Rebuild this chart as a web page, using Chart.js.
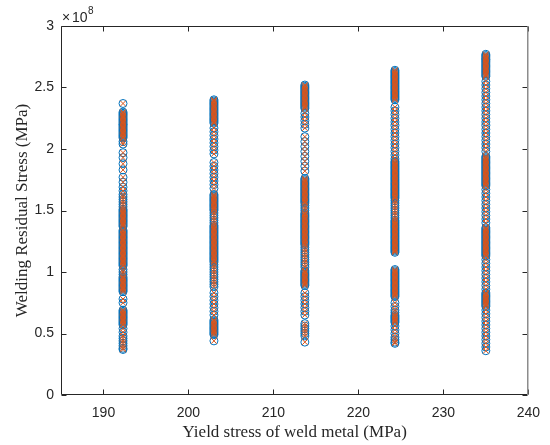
<!DOCTYPE html>
<html>
<head>
<meta charset="utf-8">
<script src="https://cdn.jsdelivr.net/npm/chart.js@4.4.1/dist/chart.umd.min.js"></script>
<style>
  body { margin: 0; background: #fff; }
  canvas { display: block; }
</style>
</head>
<body>
<canvas id="myChart" width="550" height="445"></canvas>
<script>
// yield stress of each weld metal sample group (MPa)
const yieldStress = [192.3, 203.0, 213.7, 224.3, 235.0];

// welding residual stress for each group, in units of 1e8 MPa
const residual192 = [2.37,
  2.30, 2.29, 2.28, 2.27, 2.26, 2.25, 2.24, 2.23, 2.22, 2.21, 2.20, 2.19, 2.18, 2.17, 2.16, 2.15, 2.14, 2.13, 2.12, 2.11, 2.10, 2.09,
  2.06, 2.04,
  1.97, 1.93, 1.88, 1.83, 1.77, 1.73,
  1.69, 1.66, 1.63, 1.61, 1.59, 1.57, 1.55, 1.53, 1.51,
  1.50, 1.49, 1.48, 1.47, 1.46, 1.45, 1.44, 1.43, 1.42, 1.41, 1.40, 1.39, 1.38, 1.37,
  1.34, 1.33, 1.32, 1.31, 1.30, 1.29, 1.28, 1.27, 1.26, 1.25, 1.24, 1.23, 1.22, 1.21, 1.20,
  1.19, 1.18, 1.17, 1.16, 1.15, 1.14, 1.13, 1.12, 1.11, 1.10, 1.09, 1.08, 1.07, 1.06, 1.05,
  1.02, 1.00, 0.98,
  0.96, 0.95, 0.94, 0.93, 0.92, 0.91, 0.90, 0.89, 0.88, 0.87, 0.86, 0.85, 0.84,
  0.78, 0.75,
  0.69, 0.68, 0.67, 0.66, 0.65, 0.64, 0.63, 0.62, 0.61, 0.60, 0.59, 0.58, 0.57,
  0.54, 0.51, 0.48, 0.46, 0.44, 0.42, 0.40, 0.38, 0.37];
const residual203 = [2.40, 2.39, 2.38, 2.37, 2.36, 2.35, 2.34, 2.33, 2.32, 2.31, 2.30, 2.29, 2.28, 2.27, 2.26, 2.25, 2.24, 2.23, 2.22, 2.21,
  2.17, 2.14, 2.11, 2.08, 2.05, 2.02, 1.99, 1.96,
  1.89, 1.86, 1.83, 1.80, 1.77, 1.74, 1.71, 1.68,
  1.63, 1.62, 1.61, 1.60, 1.59, 1.58, 1.57, 1.56, 1.55, 1.54, 1.53, 1.52, 1.51, 1.50,
  1.48, 1.46, 1.44, 1.42, 1.40,
  1.38, 1.37, 1.36, 1.35, 1.34, 1.33, 1.32, 1.31, 1.30, 1.29, 1.28, 1.27, 1.26, 1.25, 1.24, 1.23,
  1.22, 1.21, 1.20, 1.19, 1.18, 1.17, 1.16, 1.15, 1.14, 1.13, 1.12, 1.11, 1.10, 1.09, 1.08,
  1.06, 1.04, 1.02, 1.00, 0.98, 0.96, 0.94, 0.92, 0.90, 0.88,
  0.83, 0.80, 0.77, 0.74, 0.71, 0.68, 0.65,
  0.61, 0.60, 0.59, 0.58, 0.57, 0.56, 0.55, 0.54, 0.53, 0.52, 0.51, 0.50, 0.49,
  0.44];
const residual214 = [2.52, 2.51, 2.50, 2.49, 2.48, 2.47, 2.46, 2.45, 2.44, 2.43, 2.42, 2.41, 2.40, 2.39, 2.38, 2.37, 2.36, 2.35, 2.34, 2.33,
  2.29, 2.26, 2.23, 2.20, 2.17,
  2.10, 2.06, 2.02, 1.98, 1.94, 1.90, 1.86, 1.82,
  1.76, 1.75, 1.74, 1.73, 1.72, 1.71, 1.70, 1.69, 1.68, 1.67, 1.66, 1.65, 1.64, 1.63, 1.62, 1.61, 1.60, 1.59, 1.58, 1.57, 1.56,
  1.54, 1.52, 1.50,
  1.48, 1.47, 1.46, 1.45, 1.44, 1.43, 1.42, 1.41, 1.40, 1.39, 1.38, 1.37, 1.36, 1.35,
  1.34, 1.33, 1.32, 1.31, 1.30, 1.29, 1.28, 1.27, 1.26, 1.25, 1.24, 1.23, 1.22,
  1.20, 1.18, 1.16, 1.14, 1.12, 1.10, 1.08, 1.06, 1.04,
  1.01, 1.00, 0.99, 0.98, 0.97, 0.96, 0.95, 0.94, 0.93, 0.92, 0.91, 0.90, 0.89,
  0.83, 0.80, 0.77, 0.74, 0.71, 0.68, 0.65,
  0.58, 0.56, 0.54, 0.52, 0.50, 0.48,
  0.43];
const residual224 = [2.64, 2.63, 2.62, 2.61, 2.60, 2.59, 2.58, 2.57, 2.56, 2.55, 2.54, 2.53, 2.52, 2.51, 2.50, 2.49, 2.48, 2.47, 2.46, 2.45, 2.44, 2.43, 2.42, 2.41, 2.40,
  2.34, 2.31, 2.28, 2.25, 2.22, 2.19, 2.16, 2.13, 2.10, 2.07, 2.04, 2.01, 1.98, 1.95, 1.92,
  1.90, 1.89, 1.88, 1.87, 1.86, 1.85, 1.84, 1.83, 1.82, 1.81, 1.80, 1.79, 1.78, 1.77, 1.76, 1.75,
  1.74, 1.73, 1.72, 1.71, 1.70, 1.69, 1.68, 1.67, 1.66, 1.65, 1.64, 1.63, 1.62, 1.61, 1.60,
  1.58, 1.56, 1.54, 1.52, 1.50, 1.48, 1.46, 1.44,
  1.42, 1.41, 1.40, 1.39, 1.38, 1.37, 1.36, 1.35, 1.34, 1.33, 1.32, 1.31, 1.30, 1.29,
  1.28, 1.27, 1.26, 1.25, 1.24, 1.23, 1.22, 1.21, 1.20, 1.19, 1.18, 1.17, 1.16,
  1.02, 1.01, 1.00, 0.99, 0.98, 0.97, 0.96, 0.95, 0.94, 0.93, 0.92, 0.91,
  0.90, 0.89, 0.88, 0.87, 0.86, 0.85, 0.84, 0.83, 0.82, 0.81, 0.80,
  0.75, 0.72, 0.69, 0.67,
  0.65, 0.64, 0.63, 0.62, 0.61, 0.60, 0.59,
  0.56, 0.53, 0.50, 0.47, 0.45, 0.43, 0.42];
const residual235 = [2.77, 2.76, 2.75, 2.74, 2.73, 2.72, 2.71, 2.70, 2.69, 2.68, 2.67, 2.66, 2.65, 2.64, 2.63, 2.62, 2.61, 2.60, 2.59,
  2.55, 2.52, 2.49, 2.46, 2.43, 2.40, 2.37, 2.34, 2.31, 2.28, 2.25, 2.22, 2.19, 2.16, 2.13, 2.10, 2.07, 2.04, 2.01, 1.98,
  1.94, 1.93, 1.92, 1.91, 1.90, 1.89, 1.88, 1.87, 1.86, 1.85, 1.84, 1.83, 1.82,
  1.81, 1.80, 1.79, 1.78, 1.77, 1.76, 1.75, 1.74, 1.73, 1.72, 1.71, 1.70,
  1.67, 1.64, 1.61, 1.58, 1.55, 1.52, 1.49, 1.46, 1.43, 1.40,
  1.36, 1.35, 1.34, 1.33, 1.32, 1.31, 1.30, 1.29, 1.28, 1.27, 1.26, 1.25,
  1.24, 1.23, 1.22, 1.21, 1.20, 1.19, 1.18, 1.17, 1.16, 1.15, 1.14, 1.13,
  1.10, 1.07, 1.04, 1.01, 0.98, 0.95, 0.92, 0.89, 0.86,
  0.83, 0.82, 0.81, 0.80, 0.79, 0.78, 0.77, 0.76, 0.75, 0.74, 0.73, 0.72,
  0.69, 0.66, 0.63, 0.60, 0.57, 0.54, 0.51, 0.48, 0.45, 0.42, 0.39, 0.36];
const residualGroups = [residual192, residual203, residual214, residual224, residual235];

const xTickValues = [190, 200, 210, 220, 230, 240];
const yTickValues = [0, 0.5, 1, 1.5, 2, 2.5, 3];
const yTickLabels = ['0', '0.5', '1', '1.5', '2', '2.5', '3'];

const points = [];
residualGroups.forEach((group, i) => {
  group.forEach(v => points.push({ x: yieldStress[i], y: v }));
});

const axisColor = '#262626';
const sansFont = '"Liberation Sans", Arial, Helvetica, sans-serif';
const serifFont = '"Liberation Serif", "Times New Roman", serif';

// MATLAB-style box with inward ticks plus the x10^8 exponent
const axesBox = {
  id: 'axesBox',
  afterDatasetsDraw(chart) {
    const { ctx, chartArea: a, scales } = chart;
    const L = Math.round(a.left) + 0.5, R = Math.round(a.right) - 0.5;
    const T = Math.round(a.top) + 0.5, B = Math.round(a.bottom) - 0.5;
    const tick = 5;
    ctx.save();
    ctx.lineWidth = 1;
    ctx.strokeStyle = axisColor;
    ctx.beginPath();
    ctx.moveTo(L, T); ctx.lineTo(R, T);
    ctx.moveTo(L, T); ctx.lineTo(L, B); ctx.lineTo(R, B);
    xTickValues.forEach(v => {
      const px = Math.round(scales.x.getPixelForValue(v)) + 0.5;
      ctx.moveTo(px, B); ctx.lineTo(px, B - tick);
      ctx.moveTo(px, T); ctx.lineTo(px, T + tick);
    });
    yTickValues.forEach(v => {
      const py = Math.round(scales.y.getPixelForValue(v)) + 0.5;
      ctx.moveTo(L, py); ctx.lineTo(L + tick, py);
      ctx.moveTo(R, py); ctx.lineTo(R - tick, py);
    });
    ctx.stroke();
    ctx.strokeStyle = '#8c8c8c';
    ctx.lineWidth = 1.5;
    ctx.beginPath();
    ctx.moveTo(R + 0.25, T); ctx.lineTo(R + 0.25, B + 0.5);
    ctx.stroke();

    ctx.fillStyle = axisColor;
    ctx.textBaseline = 'alphabetic';
    ctx.font = '14px ' + sansFont;
    ctx.fillText('\u00d7', a.left + 1, 22);
    ctx.fillText('10', a.left + 11, 22);
    ctx.font = '10px ' + sansFont;
    ctx.fillText('8', a.left + 27, 14);
    ctx.restore();
  }
};

new Chart(document.getElementById('myChart').getContext('2d'), {
  type: 'scatter',
  data: {
    datasets: [
      {
        label: 'x',
        data: points,
        pointStyle: 'crossRot',
        pointRadius: 4,
        pointBorderWidth: 1,
        borderColor: '#D95319',
        backgroundColor: '#D95319'
      },
      {
        label: 'o',
        data: points,
        pointStyle: 'circle',
        pointRadius: 4,
        pointBorderWidth: 1,
        borderColor: '#0072BD',
        backgroundColor: 'rgba(0,0,0,0)'
      }
    ]
  },
  options: {
    responsive: false,
    animation: false,
    devicePixelRatio: 1,
    layout: { padding: { top: 26, right: 19, left: 0, bottom: 0 } },
    plugins: {
      legend: { display: false },
      tooltip: { enabled: false }
    },
    scales: {
      x: {
        type: 'linear',
        min: 185,
        max: 240,
        grid: { display: false, drawTicks: false },
        border: { display: false },
        afterBuildTicks: s => { s.ticks = xTickValues.map(v => ({ value: v })); },
        afterFit: s => { s.height = 50; },
        ticks: {
          color: axisColor,
          padding: 10,
          maxRotation: 0,
          autoSkip: false,
          font: { family: sansFont, size: 14 }
        },
        title: {
          display: true,
          text: 'Yield stress of weld metal (MPa)',
          color: axisColor,
          padding: { top: 0, bottom: 2 },
          font: { family: serifFont, size: 17 }
        }
      },
      y: {
        type: 'linear',
        min: 0,
        max: 3,
        grid: { display: false, drawTicks: false },
        border: { display: false },
        afterBuildTicks: s => { s.ticks = yTickValues.map(v => ({ value: v })); },
        afterFit: s => { s.width = 61; },
        ticks: {
          color: axisColor,
          padding: 7,
          autoSkip: false,
          font: { family: sansFont, size: 14 },
          callback: (value, index) => yTickLabels[index]
        },
        title: {
          display: true,
          text: 'Welding Residual Stress (MPa)',
          color: axisColor,
          padding: { top: 12, bottom: 0 },
          font: { family: serifFont, size: 17 }
        }
      }
    }
  },
  plugins: [axesBox]
});
</script>
</body>
</html>
